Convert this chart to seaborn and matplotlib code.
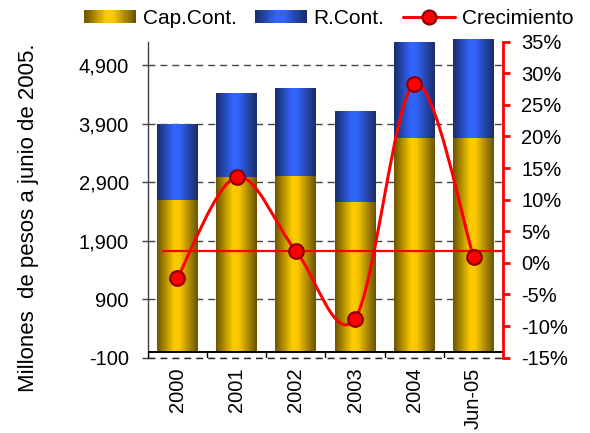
import numpy as np
import pandas as pd
import matplotlib
matplotlib.use("Agg")
import matplotlib.pyplot as plt
import seaborn as sns
from matplotlib.colors import LinearSegmentedColormap
from matplotlib.legend_handler import HandlerBase
from matplotlib.patches import Rectangle, PathPatch
from matplotlib.lines import Line2D
from matplotlib.path import Path
from matplotlib.ticker import FuncFormatter, FixedLocator

# Datos (millones de pesos a junio de 2005 y crecimiento anual en %)
periodos = ["2000", "2001", "2002", "2003", "2004", "Jun-05"]
cap_cont = [2595, 2990, 3010, 2560, 3660, 3660]
r_cont = [1295, 1430, 1500, 1555, 1640, 1685]
crecimiento = [-2.4, 13.6, 1.9, -8.8, 28.3, 0.9]
crecimiento_ref = 1.9
ticks_izq = [-100, 900, 1900, 2900, 3900, 4900]
ticks_der = [-15, -10, -5, 0, 5, 10, 15, 20, 25, 30, 35]

df = pd.DataFrame({"periodo": periodos, "cap": cap_cont, "r": r_cont})
df["total"] = df["cap"] + df["r"]

sns.set_theme(style="white")
plt.rcParams["font.family"] = ["Liberation Sans", "DejaVu Sans"]
plt.rcParams["text.color"] = "black"
plt.rcParams["xtick.color"] = "black"
plt.rcParams["ytick.color"] = "black"

oro = LinearSegmentedColormap.from_list(
    "oro", [(0, "#6a5400"), (0.42, "#ffcc00"), (0.55, "#fbc800"), (1, "#685200")])
azul = LinearSegmentedColormap.from_list(
    "azul", [(0, "#1a2c6b"), (0.42, "#3366ff"), (0.55, "#3163f8"), (1, "#1b2b66")])

fig = plt.figure(figsize=(5.9, 4.33), dpi=100)
ax = fig.add_axes([0.2503, 0.1739, 0.6027, 0.7434])

ylo, yhi = -100, 5400
ax.set_ylim(ylo, yhi)

# Barras apiladas: total (R.Cont. encima) y Cap.Cont. en la base
sns.barplot(data=df, x="periodo", y="total", color="#3366ff", width=0.69,
            ax=ax, zorder=2, errorbar=None)
n_total = len(ax.patches)
sns.barplot(data=df, x="periodo", y="cap", color="#ffcc00", width=0.69,
            ax=ax, zorder=3, errorbar=None)

grad = np.linspace(0, 1, 256).reshape(1, -1)
for i, p in enumerate(ax.patches):
    cmap = azul if i < n_total else oro
    x0, y0 = p.get_x(), p.get_y()
    w, h = p.get_width(), p.get_height()
    im = ax.imshow(grad, cmap=cmap, extent=(x0, x0 + w, y0, y0 + h),
                   aspect="auto", interpolation="bicubic",
                   zorder=2 if i < n_total else 3)
    im.set_clip_path(p)
    p.set_facecolor("none")
    p.set_edgecolor("none")

ax.set_xlim(-0.5, len(periodos) - 0.5)
ax.set_ylim(ylo, yhi)

# Rejilla, eje de categorías y marcas
dash = (0, (5, 3.6))
ax.set_axisbelow(True)
ax.yaxis.set_major_locator(FixedLocator(ticks_izq))
ax.yaxis.set_major_formatter(FuncFormatter(lambda v, _: f"{int(v):,}"))
ax.grid(axis="y", color="#444444", linewidth=1.0, linestyle=dash, zorder=0)
ax.axhline(ticks_izq[0], color="#222222", lw=1.0, linestyle=dash, clip_on=False, zorder=1)
ax.axhline(0, color="black", lw=1.4, zorder=4)
ax.vlines(np.arange(-0.5, len(periodos)), -100, 0, color="black", lw=1.0, zorder=4)

ax.set_xlabel("")
ax.set_ylabel("")
for s in ["top", "right", "bottom"]:
    ax.spines[s].set_visible(False)
ax.spines["left"].set_color("#404040")
ax.spines["left"].set_linewidth(1.0)
ax.spines["left"].set_bounds(-100, 5300)
ax.tick_params(axis="y", left=True, direction="out", length=4.5, width=1.0,
               color="#404040", pad=9, labelsize=14.5)
ax.tick_params(axis="x", bottom=False, length=0, pad=7, labelsize=14.5,
               labelrotation=90)

# Eje secundario: crecimiento
ax2 = ax.twinx()
ax2.set_ylim(-15, -15 + 50 * (yhi - ylo) / 5400)
ax2.yaxis.set_major_locator(FixedLocator(ticks_der))
ax2.yaxis.set_major_formatter(FuncFormatter(lambda v, _: f"{int(round(v))}%"))
for s in ["top", "left", "bottom"]:
    ax2.spines[s].set_visible(False)
ax2.spines["right"].set_color("red")
ax2.spines["right"].set_linewidth(2.0)
ax2.spines["right"].set_bounds(-15, 35)
ax2.tick_params(axis="y", right=True, direction="out", length=5, width=2.0,
                color="red", labelcolor="black", pad=8, labelsize=14.5)
ax2.grid(False)

xs = np.arange(len(crecimiento), dtype=float)
pts = np.column_stack([xs, np.array(crecimiento, dtype=float)])
verts = [pts[0]]
codes = [Path.MOVETO]
for i in range(len(pts) - 1):
    p0 = pts[i - 1] if i > 0 else pts[i]
    p1, p2 = pts[i], pts[i + 1]
    p3 = pts[i + 2] if i + 2 < len(pts) else pts[i + 1]
    verts += [p1 + (p2 - p0) / 6, p2 - (p3 - p1) / 6, p2]
    codes += [Path.CURVE4] * 3
ax2.add_patch(PathPatch(Path(verts, codes), fill=False, edgecolor="red",
                        lw=2.2, zorder=4))
ax2.plot([-0.25, len(periodos) - 0.5], [crecimiento_ref] * 2, color="red",
         lw=1.6, zorder=3, solid_capstyle="butt")
sns.scatterplot(x=xs, y=crecimiento, ax=ax2, s=110, color="red",
                edgecolor="#8b0000", linewidth=1.6, zorder=5, legend=False)
ax2.set_xlim(-0.5, len(periodos) - 0.5)

# Etiqueta del eje izquierdo
fig.text(0.049, 0.4965, "Millones  de pesos a junio de 2005.", rotation=90,
         ha="center", va="center", fontsize=16)


class GradientHandler(HandlerBase):
    def __init__(self, cmap):
        super().__init__()
        self.cmap = cmap

    def create_artists(self, legend, orig_handle, xdescent, ydescent, width,
                       height, fontsize, trans):
        n = 48
        arts = []
        for k in range(n):
            arts.append(Rectangle((-xdescent + width * k / n, -ydescent),
                                  width / n * 1.05, height,
                                  facecolor=self.cmap(k / (n - 1)),
                                  edgecolor="none", transform=trans))
        return arts


h_cap = Rectangle((0, 0), 1, 1)
h_r = Rectangle((0, 0), 1, 1)
h_crec = Line2D([], [], color="red", lw=2.2, marker="o", ms=10,
                markerfacecolor="red", markeredgecolor="#8b0000", markeredgewidth=1.6)
fig.legend([h_cap, h_r, h_crec], ["Cap.Cont.", "R.Cont.", "Crecimiento"],
           handler_map={h_cap: GradientHandler(oro), h_r: GradientHandler(azul)},
           loc="center", bbox_to_anchor=(0.557, 0.958), ncol=3, frameon=False,
           fontsize=15, handlelength=2.5, handleheight=0.6, handletextpad=0.3,
           columnspacing=0.9, borderpad=0)

fig.savefig("out.png", dpi=100)
